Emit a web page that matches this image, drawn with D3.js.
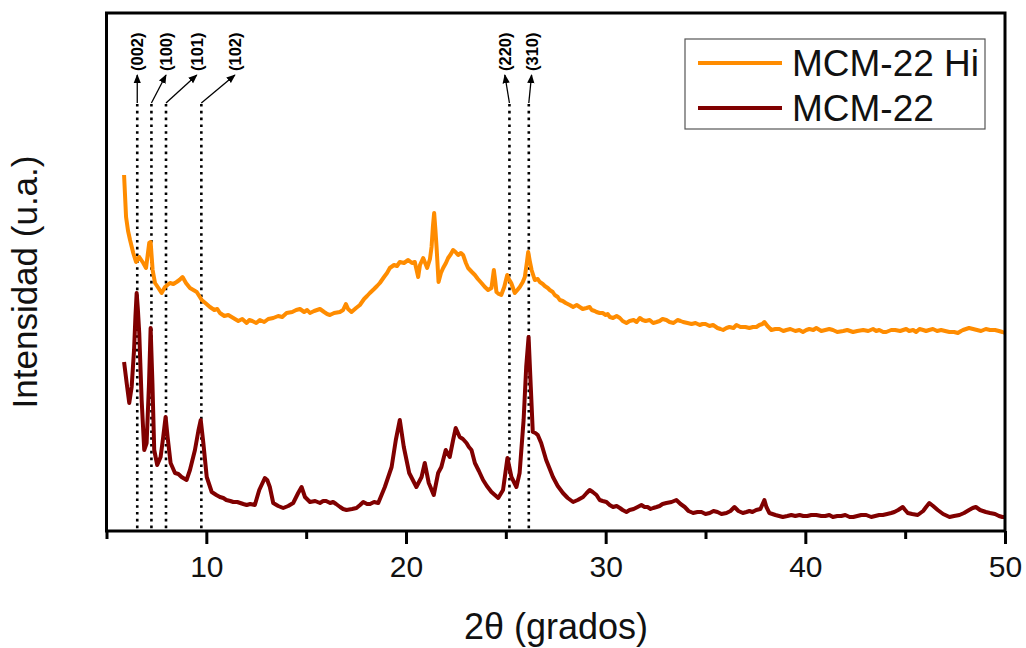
<!DOCTYPE html>
<html>
<head>
<meta charset="utf-8">
<script src="https://cdn.jsdelivr.net/npm/d3@7"></script>
<style>
  body { margin: 0; background: #fff; }
  svg { font-family: "Liberation Sans", Arial, sans-serif; }
</style>
</head>
<body>
<svg id="chart" width="1026" height="648"></svg>
<script>
// MCM-22 Hi (orange), [2theta, intensity a.u.]
const hiData = [
  [5.88,356],[5.98,314],[6.08,300],[6.18,291],[6.34,278],[6.48,269],[6.64,274],[6.84,268],[6.98,263],
  [7.14,288],[7.21,289],[7.31,261],[7.43,248],[7.6,243],[7.76,238],[7.93,244],[8.05,246],[8.18,248],
  [8.35,247],[8.51,249],[8.65,251],[8.81,254],[8.98,248],[9.18,243],[9.35,241],[9.52,239],[9.77,231],
  [9.95,228],[10.18,224],[10.4,221],[10.55,222],[10.68,218],[10.9,215],[11.1,216],[11.35,213],[11.6,210],
  [11.8,212],[12.02,208],[12.15,211],[12.3,210],[12.5,208],[12.68,211],[12.9,209],[13.1,212],[13.35,213],
  [13.6,215],[13.8,214],[14.02,218],[14.3,219],[14.5,221],[14.69,222],[14.9,219],[15.05,221],[15.19,218],
  [15.4,220],[15.69,222],[15.9,219],[16.05,217],[16.19,216],[16.4,218],[16.69,219],[16.85,221],[16.99,227],
  [17.1,222],[17.27,219],[17.5,223],[17.69,226],[17.9,232],[18.05,235],[18.19,238],[18.4,242],[18.55,245],
  [18.69,248],[18.9,254],[19.05,258],[19.19,263],[19.4,266],[19.55,265],[19.69,269],[19.9,268],[20.11,271],
  [20.3,268],[20.44,269],[20.52,262],[20.61,254],[20.7,266],[20.86,273],[21.06,263],[21.2,272],[21.28,284],
  [21.35,305],[21.41,318],[21.47,302],[21.53,284],[21.63,249],[21.75,258],[21.86,263],[22.0,268],[22.11,273],
  [22.25,277],[22.36,281],[22.48,279],[22.61,276],[22.75,278],[22.86,276],[23.0,268],[23.11,263],[23.3,259],
  [23.45,256],[23.6,252],[23.78,248],[23.95,244],[24.11,241],[24.28,243],[24.4,261],[24.47,250],[24.53,239],
  [24.65,237],[24.77,236],[24.92,244],[25.07,256],[25.15,252],[25.27,248],[25.45,238],[25.58,241],[25.7,244],
  [25.85,249],[25.95,254],[26.05,268],[26.12,279],[26.2,270],[26.29,261],[26.45,251],[26.6,252],[26.7,249],
  [26.85,247],[26.95,245],[27.1,243],[27.2,241],[27.35,239],[27.45,236],[27.6,234],[27.7,231],[27.85,230],
  [28.0,228],[28.2,226],[28.37,224],[28.55,226],[28.7,224],[28.85,222],[29.04,223],[29.2,224],[29.3,221],
  [29.45,220],[29.54,219],[29.7,218],[29.85,218],[30.0,216],[30.1,217],[30.21,214],[30.37,213],[30.55,215],
  [30.71,213],[30.85,210],[31.04,208],[31.2,210],[31.4,211],[31.55,209],[31.71,213],[31.85,211],[32.0,210],
  [32.2,211],[32.38,208],[32.55,209],[32.7,210],[32.85,212],[33.04,211],[33.2,209],[33.4,208],[33.6,211],
  [33.75,210],[33.88,209],[34.1,208],[34.3,207],[34.5,208],[34.71,206],[34.85,207],[35.0,207],[35.2,205],
  [35.38,206],[35.6,203],[35.75,202],[35.88,201],[36.05,203],[36.2,204],[36.4,203],[36.55,206],[36.75,204],
  [37.0,204],[37.2,203],[37.38,204],[37.55,204],[37.7,206],[37.85,207],[37.95,209],[38.1,205],[38.3,201],
  [38.5,202],[38.7,202],[38.9,200],[39.05,201],[39.25,202],[39.5,200],[39.7,201],[39.88,199],[40.05,201],
  [40.2,202],[40.4,201],[40.55,203],[40.8,200],[41.0,201],[41.2,202],[41.38,201],[41.6,199],[41.9,200],
  [42.1,201],[42.39,199],[42.6,200],[42.9,201],[43.15,200],[43.39,202],[43.55,200],[43.7,201],[43.9,199],
  [44.05,199],[44.3,201],[44.5,201],[44.75,200],[45.05,202],[45.2,200],[45.4,201],[45.55,199],[45.72,202],
  [45.9,201],[46.05,200],[46.2,201],[46.39,202],[46.6,200],[46.8,201],[47.0,200],[47.22,199],[47.45,199],
  [47.64,198],[47.8,200],[47.9,201],[48.05,202],[48.2,203],[48.4,202],[48.6,201],[48.8,200],[49.04,202],
  [49.25,201],[49.5,201],[49.7,200],[49.87,199],[50.0,198]
];

// MCM-22 (maroon)
const baseData = [
  [5.88,169],[6.01,148],[6.14,128],[6.26,144],[6.38,181],[6.45,215],[6.51,238],[6.57,222],[6.64,198],
  [6.76,131],[6.89,81],[7.01,88],[7.13,148],[7.21,203],[7.3,148],[7.39,81],[7.54,66],[7.71,74],[7.84,94],
  [7.96,114],[8.06,94],[8.21,68],[8.43,58],[8.6,57],[8.76,54],[9.01,51],[9.18,61],[9.43,81],[9.6,100],
  [9.72,111],[9.85,88],[10.02,54],[10.27,39],[10.5,36],[10.68,34],[10.85,33],[11.0,31],[11.2,30],[11.35,29],
  [11.55,29],[11.7,28],[11.85,27],[12.02,26],[12.2,27],[12.43,26],[12.65,41],[12.93,53],[13.05,51],[13.18,44],
  [13.35,28],[13.6,25],[13.85,23],[14.1,25],[14.35,28],[14.6,38],[14.77,44],[14.94,34],[15.19,29],[15.45,30],
  [15.69,28],[15.85,30],[16.0,30],[16.2,28],[16.35,29],[16.5,27],[16.7,24],[16.85,22],[17.02,21],[17.3,22],
  [17.52,23],[17.7,26],[17.86,29],[18.05,27],[18.2,27],[18.4,29],[18.61,28],[18.94,44],[19.28,64],
  [19.49,91],[19.69,111],[19.89,84],[20.16,58],[20.52,44],[20.78,54],[20.94,68],[21.14,48],[21.39,36],
  [21.61,58],[21.77,64],[21.99,81],[22.19,74],[22.36,91],[22.49,103],[22.69,94],[22.85,92],[23.03,88],
  [23.15,84],[23.28,81],[23.45,68],[23.65,60],[23.86,51],[24.05,45],[24.28,39],[24.45,36],[24.62,33],
  [24.86,41],[25.08,73],[25.28,54],[25.53,44],[25.69,58],[25.89,111],[26.02,164],[26.14,194],[26.25,144],
  [26.35,99],[26.48,98],[26.6,96],[26.77,88],[27.02,71],[27.2,62],[27.36,54],[27.6,45],[27.86,38],[28.1,33],
  [28.37,29],[28.6,31],[28.87,34],[29.05,38],[29.2,41],[29.35,39],[29.54,36],[29.7,31],[29.85,30],[30.04,29],
  [30.2,26],[30.37,24],[30.55,25],[30.71,23],[30.85,21],[31.04,19],[31.2,21],[31.4,22],[31.6,24],[31.79,26],
  [31.95,24],[32.1,24],[32.25,22],[32.38,23],[32.55,24],[32.7,25],[32.85,27],[33.04,28],[33.3,29],[33.54,31],
  [33.75,27],[33.96,24],[34.15,20],[34.38,18],[34.6,19],[34.8,19],[35.0,17],[35.21,18],[35.4,20],[35.6,19],
  [35.8,17],[36.05,18],[36.25,20],[36.45,24],[36.65,20],[36.87,18],[37.05,19],[37.2,20],[37.35,19],[37.54,21],
  [37.75,22],[37.95,31],[38.05,24],[38.2,18],[38.5,16],[38.87,14],[39.1,15],[39.3,16],[39.5,15],[39.71,16],
  [39.9,15],[40.1,15],[40.3,16],[40.55,16],[40.8,15],[41.0,15],[41.2,16],[41.38,14],[41.6,15],[41.8,15],
  [42.0,16],[42.22,14],[42.4,14],[42.6,15],[42.8,16],[43.05,16],[43.3,14],[43.5,15],[43.7,16],[43.88,16],
  [44.1,17],[44.3,18],[44.46,19],[44.65,21],[44.88,24],[45.0,21],[45.13,18],[45.35,17],[45.63,16],[45.9,20],
  [46.05,24],[46.21,28],[46.4,25],[46.63,21],[46.9,17],[47.22,14],[47.45,15],[47.72,16],[47.95,18],[48.2,21],
  [48.38,23],[48.54,24],[48.75,21],[49.04,19],[49.25,18],[49.5,17],[49.7,15],[49.87,14],[50.0,14]
];

// reflections marked with dotted lines: peak position, label position, label
const peakTheta = [6.54, 7.25, 7.98, 9.75, 25.18, 26.15];
const labelTheta = [6.54, 7.98, 9.52, 11.43, 24.95, 26.29];
const hklLabels = ["(002)", "(100)", "(101)", "(102)", "(220)", "(310)"];

const seriesNames = ["MCM-22 Hi", "MCM-22"];
const seriesColors = ["#ff8c00", "#800000"];

const majorTicks = [10, 20, 30, 40, 50];
const minorTicks = [5, 15, 25, 35, 45];

const svg = d3.select("#chart");
const plot = { left: 106.5, right: 1005, top: 13, bottom: 531 };

const x = d3.scaleLinear().domain([5, 50]).range([plot.left, plot.right]);
const y = d3.scaleLinear().domain([0, 518]).range([plot.bottom, plot.top]);

const defs = svg.append("defs");
defs.append("marker")
  .attr("id", "arrow")
  .attr("viewBox", "0 0 10 10")
  .attr("refX", 9).attr("refY", 5)
  .attr("markerWidth", 7).attr("markerHeight", 7)
  .attr("orient", "auto")
  .append("path").attr("d", "M0,1 L10,5 L0,9 Z").attr("fill", "#000");

// dotted reference lines
peakTheta.forEach(t => {
  svg.append("line")
    .attr("x1", x(t)).attr("x2", x(t))
    .attr("y1", 104).attr("y2", plot.bottom)
    .attr("stroke", "#000").attr("stroke-width", 2.6)
    .attr("stroke-dasharray", "2.6,4.2");
});

// curves
const line = d3.line().x(d => x(d[0])).y(d => y(d[1]));
[hiData, baseData].forEach((data, i) => {
  svg.append("path")
    .datum(data)
    .attr("d", line)
    .attr("fill", "none")
    .attr("stroke", seriesColors[i])
    .attr("stroke-width", 4)
    .attr("stroke-linejoin", "round");
});

// hkl arrows and labels
peakTheta.forEach((t, i) => {
  svg.append("line")
    .attr("x1", x(t)).attr("y1", 103)
    .attr("x2", x(labelTheta[i])).attr("y2", 75)
    .attr("stroke", "#000").attr("stroke-width", 1.3)
    .attr("marker-end", "url(#arrow)");
  svg.append("text")
    .attr("transform", `translate(${x(labelTheta[i])},71) rotate(-90)`)
    .attr("dy", "0.36em")
    .attr("font-size", 16.5)
    .attr("font-weight", "bold")
    .text(hklLabels[i]);
});

// frame
svg.append("rect")
  .attr("x", plot.left).attr("y", plot.top)
  .attr("width", plot.right - plot.left).attr("height", plot.bottom - plot.top)
  .attr("fill", "none").attr("stroke", "#000").attr("stroke-width", 3);

// x axis
const xAxis = svg.append("g")
  .attr("transform", `translate(0,${plot.bottom})`)
  .call(d3.axisBottom(x).tickValues(majorTicks).tickSize(13).tickPadding(12).tickFormat(d3.format("d")));
xAxis.select(".domain").remove();
xAxis.selectAll(".tick line").attr("stroke-width", 3);
xAxis.selectAll(".tick text").attr("font-size", 30).attr("fill", "#111")
  .attr("font-family", "'Liberation Sans', Arial, sans-serif");

const xMinor = svg.append("g")
  .attr("transform", `translate(0,${plot.bottom})`)
  .call(d3.axisBottom(x).tickValues(minorTicks).tickSize(8).tickFormat(""));
xMinor.select(".domain").remove();
xMinor.selectAll(".tick line").attr("stroke-width", 3);

// axis titles
svg.append("text")
  .attr("x", 556).attr("y", 639)
  .attr("text-anchor", "middle")
  .attr("font-size", 36)
  .attr("fill", "#111")
  .text("2θ (grados)");

svg.append("text")
  .attr("transform", "translate(37,282) rotate(-90)")
  .attr("text-anchor", "middle")
  .attr("font-size", 35)
  .attr("fill", "#111")
  .text("Intensidad (u.a.)");

// legend
const legend = svg.append("g");
legend.append("rect")
  .attr("x", 685).attr("y", 39).attr("width", 300).attr("height", 90)
  .attr("fill", "#fff").attr("stroke", "#555").attr("stroke-width", 1.2);
seriesNames.forEach((name, i) => {
  const ly = 63 + i * 45;
  legend.append("line")
    .attr("x1", 698).attr("x2", 782).attr("y1", ly).attr("y2", ly)
    .attr("stroke", seriesColors[i]).attr("stroke-width", 4);
  legend.append("text")
    .attr("x", 792).attr("y", ly + 13)
    .attr("font-size", 37)
    .attr("fill", "#111")
    .text(name);
});
</script>
</body>
</html>
